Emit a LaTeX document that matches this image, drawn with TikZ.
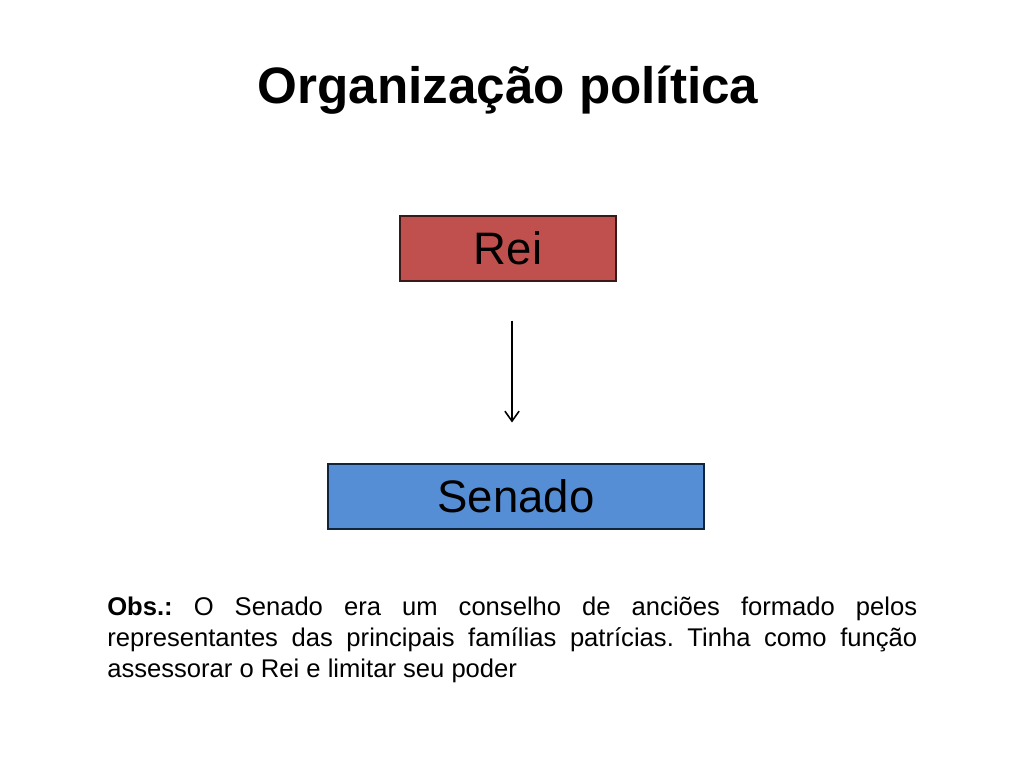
\documentclass[tikz,border=0pt]{standalone}
\usepackage{fontspec}
\setmainfont{Liberation Sans}
\usetikzlibrary{arrows.meta}
\definecolor{reifill}{HTML}{C0504D}
\definecolor{reiline}{HTML}{3A1A19}
\definecolor{senfill}{HTML}{558ED5}
\definecolor{senline}{HTML}{10243E}
\frenchspacing
\begin{document}
\begin{tikzpicture}[x=0.703125pt,y=-0.703125pt,
  boxnode/.style={rectangle, inner sep=0pt, line width=0.75pt, font=\fontsize{32}{38}\selectfont},
  arr/.style={-{Straight Barb[length=7pt,width=10pt,line width=1.1pt]}, line width=1.1pt}]
\path[fill=white,use as bounding box] (0,0) rectangle (1024,768);
\node[anchor=base, font=\fontsize{36}{43}\bfseries] (title) at (508,104) {Organização política};
\node[boxnode, draw=reiline, fill=reifill, minimum width=216*0.703125pt, minimum height=65*0.703125pt] (rei) at (508,248.5) {Rei};
\node[boxnode, draw=senline, fill=senfill, minimum width=376*0.703125pt, minimum height=65*0.703125pt] (senado) at (516,496.5) {Senado};
\draw[arr, shorten <=39*0.703125pt, shorten >=41*0.703125pt] ([xshift=4*0.703125pt]rei.south) -- ([xshift=-4*0.703125pt]senado.north);
\node[anchor=north west, inner sep=0pt, text width=810*0.703125pt, align=justify, font=\fontsize{18}{21.8}\selectfont\frenchspacing] (obs) at (107,597)
{\textbf{Obs.:} O Senado era um conselho de anciões formado pelos\linebreak representantes das principais famílias patrícias. Tinha como função\linebreak assessorar o Rei e limitar seu poder};
\end{tikzpicture}
\end{document}
